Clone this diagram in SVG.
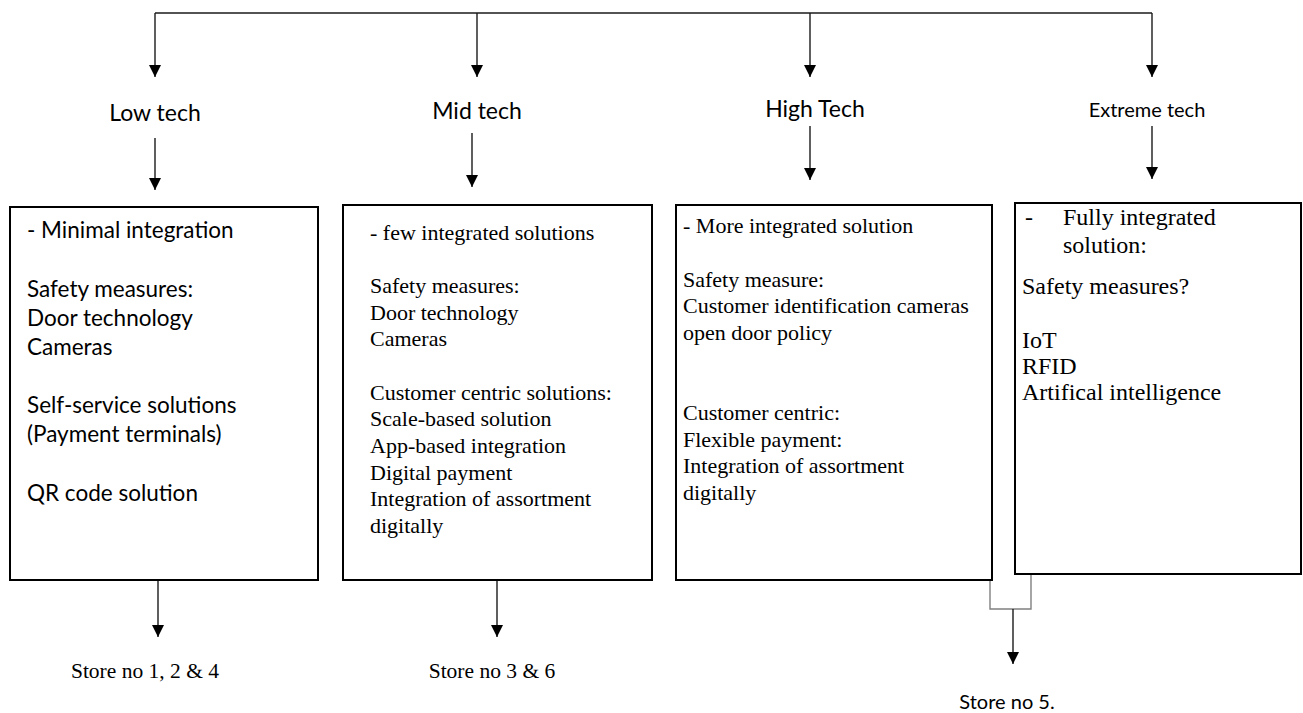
<svg xmlns="http://www.w3.org/2000/svg" width="1303" height="713" viewBox="0 0 1303 713">
<style>
.box{fill:#fff;stroke:#000;stroke-width:2}
.sans{font-family:Lato,"Liberation Sans",sans-serif;fill:#000}
.serif{font-family:"Liberation Serif","Times New Roman",serif;fill:#000}
.lbl{font-size:23px;text-anchor:middle}
.b1{font-size:22.5px}
.b2{font-size:22px}
.b4{font-size:24px}
.st{font-size:21.5px;text-anchor:middle}
.ln{fill:none;stroke:#1a1a1a;stroke-width:1.4}
.gr{fill:none;stroke:#808080;stroke-width:1.4}
</style>
<defs>
<marker id="ah" markerWidth="12" markerHeight="12" refX="12" refY="6" orient="auto" markerUnits="userSpaceOnUse"><path d="M0,0 L12,6 L0,12 z" fill="#000"/></marker>
</defs>
<rect width="1303" height="713" fill="#fff"/>
<g id="connectors">
<path class="ln" d="M155,13 H1152"/>
<path class="ln" d="M155,13 V77" marker-end="url(#ah)"/>
<path class="ln" d="M477,13 V77" marker-end="url(#ah)"/>
<path class="ln" d="M810,13 V77" marker-end="url(#ah)"/>
<path class="ln" d="M1152,13 V77" marker-end="url(#ah)"/>
<path class="ln" d="M155,138 V190" marker-end="url(#ah)"/>
<path class="ln" d="M472,133 V187" marker-end="url(#ah)"/>
<path class="ln" d="M810,126 V180" marker-end="url(#ah)"/>
<path class="ln" d="M1152,126 V179" marker-end="url(#ah)"/>
<path class="ln" d="M158,580 V637" marker-end="url(#ah)"/>
<path class="ln" d="M497,580 V637" marker-end="url(#ah)"/>
<path class="gr" d="M990,580 V609 H1031 V574"/>
<path class="ln" d="M1013,609 V664" marker-end="url(#ah)"/>
</g>
<g id="label-low"><text class="sans lbl" x="155" y="121">Low tech</text></g>
<g id="label-mid"><text class="sans lbl" x="477" y="119">Mid tech</text></g>
<g id="label-high"><text class="sans lbl" x="815" y="117">High Tech</text></g>
<g id="label-extreme"><text class="sans lbl" x="1147" y="117" style="font-size:20px">Extreme tech</text></g>
<g id="box-low">
<rect class="box" x="10" y="207" width="308" height="373"/>
<text class="sans b1" x="27" y="238">- Minimal integration</text>
<text class="sans b1" x="27" y="297">Safety measures:</text>
<text class="sans b1" x="27" y="326">Door technology</text>
<text class="sans b1" x="27" y="355">Cameras</text>
<text class="sans b1" x="27" y="413">Self-service solutions</text>
<text class="sans b1" x="27" y="442">(Payment terminals)</text>
<text class="sans b1" x="27" y="501">QR code solution</text>
</g>
<g id="box-mid">
<rect class="box" x="343" y="205" width="309" height="375"/>
<text class="serif b2" x="370" y="240">- few integrated solutions</text>
<text class="serif b2" x="370" y="293">Safety measures:</text>
<text class="serif b2" x="370" y="320">Door technology</text>
<text class="serif b2" x="370" y="346">Cameras</text>
<text class="serif b2" x="370" y="400">Customer centric solutions:</text>
<text class="serif b2" x="370" y="426">Scale-based solution</text>
<text class="serif b2" x="370" y="453">App-based integration</text>
<text class="serif b2" x="370" y="480">Digital payment</text>
<text class="serif b2" x="370" y="506">Integration of assortment</text>
<text class="serif b2" x="370" y="533">digitally</text>
</g>
<g id="box-high">
<rect class="box" x="676" y="205" width="316" height="375"/>
<text class="serif b2" x="683" y="233">- More integrated solution</text>
<text class="serif b2" x="683" y="287">Safety measure:</text>
<text class="serif b2" x="683" y="313">Customer identification cameras</text>
<text class="serif b2" x="683" y="340">open door policy</text>
<text class="serif b2" x="683" y="420">Customer centric:</text>
<text class="serif b2" x="683" y="447">Flexible payment:</text>
<text class="serif b2" x="683" y="473">Integration of assortment</text>
<text class="serif b2" x="683" y="500">digitally</text>
</g>
<g id="box-extreme">
<rect class="box" x="1015" y="203" width="286" height="371"/>
<text class="serif b4" x="1025" y="225">-</text>
<text class="serif b4" x="1063" y="225">Fully integrated</text>
<text class="serif b4" x="1063" y="253">solution:</text>
<text class="serif b4" x="1022" y="294">Safety measures?</text>
<text class="serif b4" x="1022" y="348">IoT</text>
<text class="serif b4" x="1022" y="374">RFID</text>
<text class="serif b4" x="1022" y="400">Artifical intelligence</text>
</g>
<g id="store-124"><text class="serif st" x="145" y="678">Store no 1, 2 &amp; 4</text></g>
<g id="store-36"><text class="serif st" x="492" y="678">Store no 3 &amp; 6</text></g>
<g id="store-5"><text class="sans st" x="1007" y="709" style="font-size:20px">Store no 5.</text></g>
</svg>
